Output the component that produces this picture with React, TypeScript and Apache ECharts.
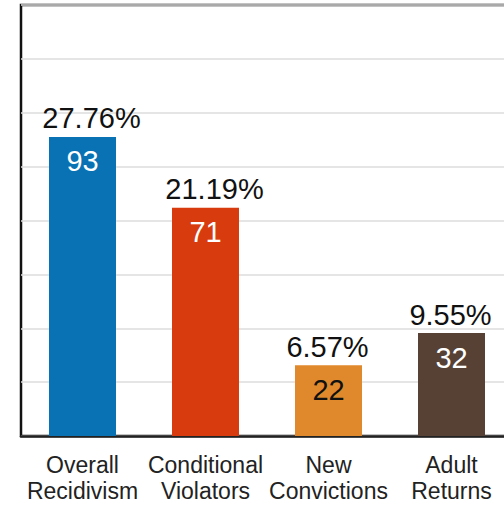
import React, { useEffect, useRef } from "react";
import * as echarts from "echarts";

const categories = ["Overall\nRecidivism", "Conditional\nViolators", "New\nConvictions", "Adult\nReturns"];
const percents = [27.76, 21.19, 6.57, 9.55];
const counts = [93, 71, 22, 32];
const barColors = ["#0872b4", "#d83c0e", "#e0892c", "#574135"];
const countColors = ["#ffffff", "#ffffff", "#111111", "#ffffff"];

const FONT = "'Liberation Sans', Arial, sans-serif";

export default function App() {
  const ref = useRef<HTMLDivElement>(null);
  useEffect(() => {
    if (!ref.current) return;
    const chart = echarts.init(ref.current, undefined, { renderer: "svg" });
    chart.setOption({
      animation: false,
      backgroundColor: "#ffffff",
      grid: {
        left: 21,
        top: 5,
        bottom: 70,
        width: 492,
        show: true,
        borderColor: "#111111",
        borderWidth: 2.5,
        containLabel: false,
        outerBoundsMode: "none",
      },
      xAxis: {
        type: "category",
        data: categories,
        axisLine: { show: true, lineStyle: { color: "#222222", width: 2.5 } },
        axisTick: { show: false },
        axisLabel: {
          color: "#222222",
          fontSize: 23,
          fontFamily: FONT,
          lineHeight: 26,
          margin: 16,
          interval: 0,
        },
      },
      yAxis: {
        type: "value",
        min: 0,
        max: 40,
        interval: 5,
        axisLine: { show: false },
        axisTick: { show: false },
        axisLabel: { show: false },
        splitLine: { show: true, lineStyle: { color: "#dddddd", width: 1.5 } },
      },
      series: [
        {
          type: "bar",
          barWidth: 67,
          data: percents.map((v, i) => ({
            value: v,
            itemStyle: { color: barColors[i] },
            label: { offset: [v >= 10 ? 9 : -1, 0] },
          })),
          label: {
            show: true,
            position: "top",
            distance: 4,
            color: "#111111",
            fontSize: 29,
            fontFamily: FONT,
            formatter: (p: any) => percents[p.dataIndex].toFixed(2) + "%",
          },
        },
        {
          type: "bar",
          barWidth: 67,
          barGap: "-100%",
          data: percents.map((v, i) => ({
            value: v,
            itemStyle: { color: "transparent" },
            label: { color: countColors[i] },
          })),
          label: {
            show: true,
            position: "insideTop",
            distance: 10,
            fontSize: 29,
            fontFamily: FONT,
            formatter: (p: any) => String(counts[p.dataIndex]),
          },
          z: 3,
        },
      ],
    });
    return () => chart.dispose();
  }, []);
  return (
    <div
      ref={ref}
      style={{ position: "absolute", left: 0, top: 0, width: 504, height: 506 }}
    />
  );
}
